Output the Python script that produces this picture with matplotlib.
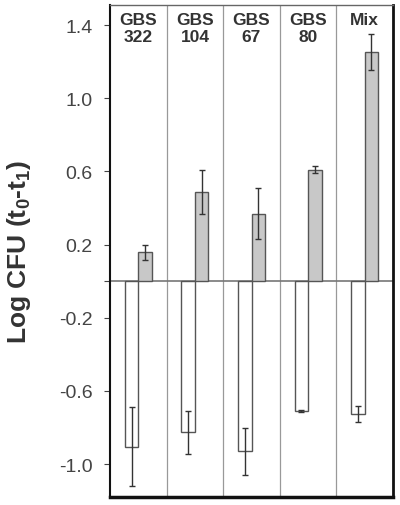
import matplotlib.pyplot as plt
import numpy as np

plt.rcParams['font.family'] = ['Liberation Sans', 'DejaVu Sans']
plt.rcParams['mathtext.fontset'] = 'custom'
plt.rcParams['mathtext.rm'] = 'Liberation Sans:bold'
plt.rcParams['mathtext.it'] = 'Liberation Sans:bold'
plt.rcParams['mathtext.bf'] = 'Liberation Sans:bold'

groups = ["GBS\n322", "GBS\n104", "GBS\n67", "GBS\n80", "Mix"]
neg_vals = [-0.905, -0.827, -0.93, -0.709, -0.727]
neg_err = [0.215, 0.116, 0.128, 0.004, 0.044]
pos_vals = [0.158, 0.49, 0.37, 0.61, 1.255]
pos_err = [0.04, 0.12, 0.14, 0.02, 0.098]
yticks = [1.4, 1.0, 0.6, 0.2, 0.0, -0.2, -0.6, -1.0]
ytick_labels = ["1.4", "1.0", "0.6", "0.2", "", "-0.2", "-0.6", "-1.0"]

fig = plt.figure(figsize=(4.0, 5.06), dpi=100)
ax = fig.add_axes([110/400, 1-498/506, (393-110)/400, (498-6)/506])

x = np.arange(len(groups))
w = 0.24
ax.bar(x - w/2, neg_vals, width=w, color="white", edgecolor="#555555", linewidth=1.0, zorder=2)
ax.bar(x + w/2, pos_vals, width=w, color="#c8c8c8", edgecolor="#555555", linewidth=1.0, zorder=2)
ax.errorbar(x - w/2, neg_vals, yerr=neg_err, fmt="none", ecolor="#333333", elinewidth=1.0, capsize=2.5, capthick=1.0, zorder=3)
ax.errorbar(x + w/2, pos_vals, yerr=pos_err, fmt="none", ecolor="#333333", elinewidth=1.0, capsize=2.5, capthick=1.0, zorder=3)

for i in range(1, len(groups)):
    ax.axvline(i - 0.5, color="#999999", linewidth=0.9, zorder=1)
ax.axhline(0, color="#777777", linewidth=1.2, zorder=1)

for i, g in enumerate(groups):
    ax.text(i, 1.47, g, ha="center", va="top", fontsize=12.5, fontweight="bold",
            color="#333333", linespacing=1.1)

ax.set_xlim(-0.5, len(groups) - 0.5)
ax.set_ylim(-1.18, 1.51)
ax.set_xticks([])
ax.set_yticks(yticks)
ax.set_yticklabels(ytick_labels, fontsize=14, color="#444444")
ax.tick_params(axis="y", direction="out", length=4.5, width=0.8, color="#444444", pad=8)
ax.set_ylabel("Log CFU (t$_0$-t$_1$)", fontsize=19, fontweight="bold", color="#333333")
ax.yaxis.set_label_coords(-0.272, 0.5)

ax.spines["left"].set_linewidth(1.5)
ax.spines["bottom"].set_linewidth(2.5)
ax.spines["right"].set_linewidth(2.0)
ax.spines["top"].set_linewidth(1.0)
ax.spines["top"].set_color("#666666")
for s in ["left", "bottom", "right"]:
    ax.spines[s].set_color("#111111")

fig.savefig("out.png", dpi=100)
